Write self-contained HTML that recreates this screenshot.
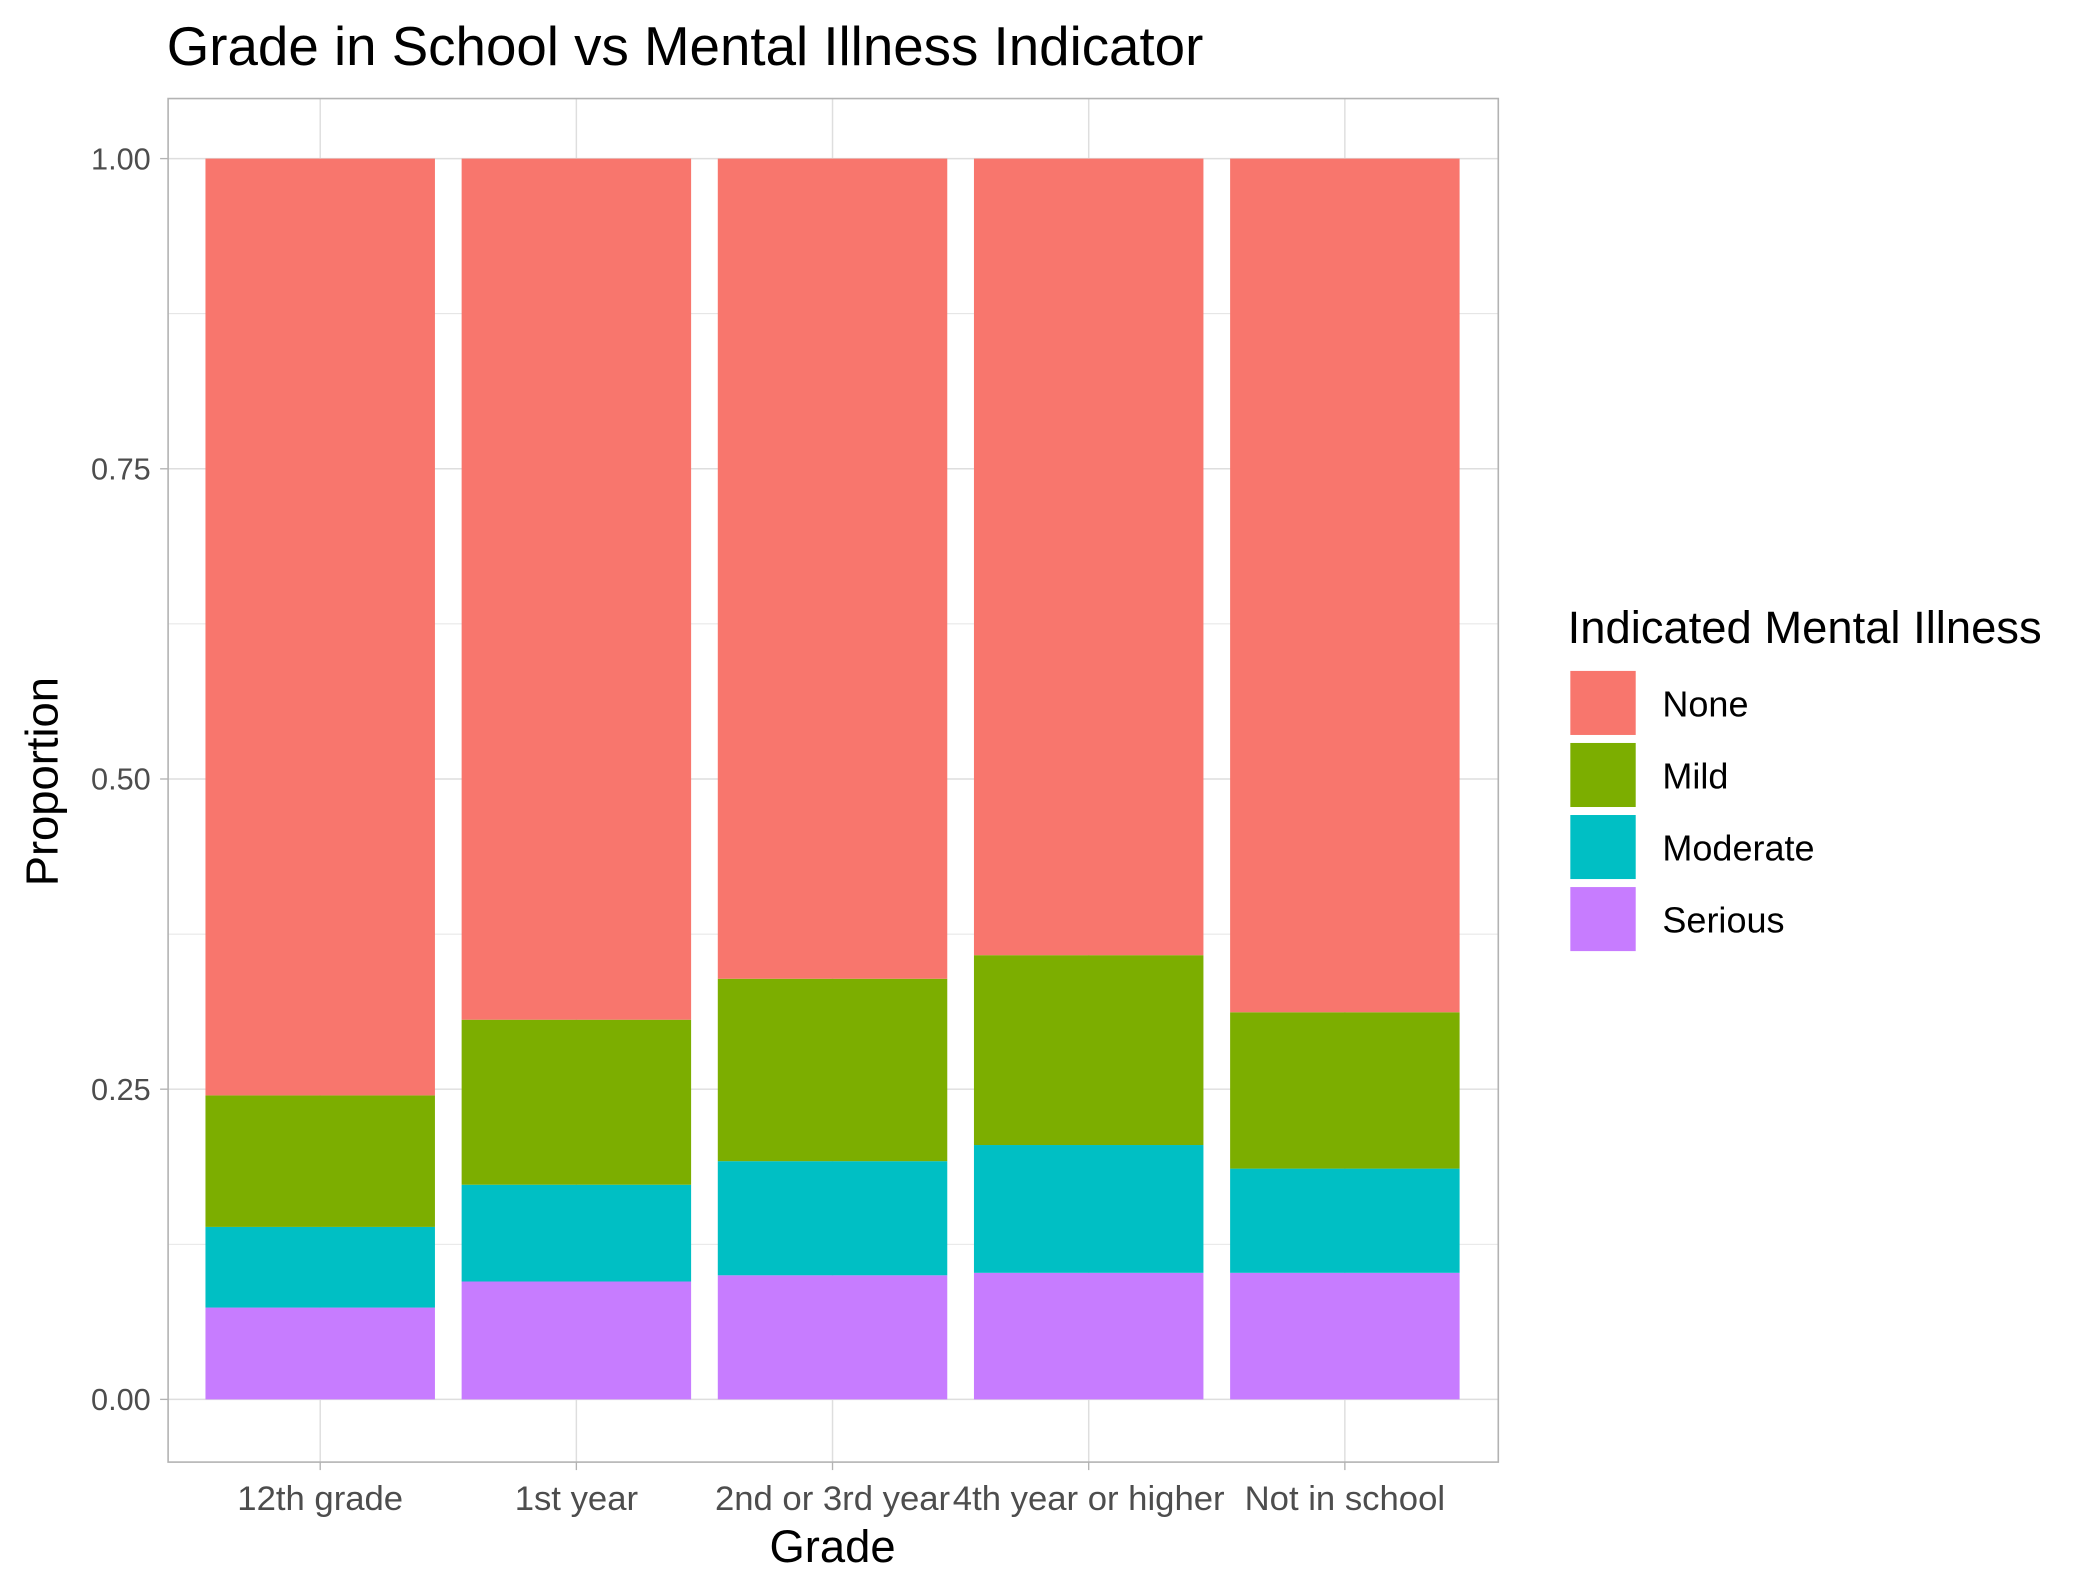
<!DOCTYPE html>
<html><head><meta charset="utf-8"><style>
html,body{margin:0;padding:0;background:#fff}
svg{display:block;font-family:"Liberation Sans",Arial,sans-serif}
</style></head><body>
<svg id="chart" width="2092" height="1590" viewBox="0 0 1568 1190" xmlns="http://www.w3.org/2000/svg">
<text x="125" y="48" font-size="41" fill="#000">Grade in School vs Mental Illness Indicator</text>
<g id="grid"></g>
<g id="bars"></g>
<rect x="126" y="73" width="997" height="1022" fill="none" stroke="#b3b3b3" stroke-width="1.2"/>
<g id="axes"></g>
<text x="624" y="1170" font-size="34" text-anchor="middle">Grade</text>
<text transform="translate(43,585) rotate(-90)" font-size="34" text-anchor="middle">Proportion</text>
<g>
<text x="1175" y="481" font-size="34">Indicated Mental Illness</text>
<g id="legend-items"></g>
</g>
</svg>
<script>
const categories = ["12th grade","1st year","2nd or 3rd year","4th year or higher","Not in school"];
const seriesNames = ["None","Mild","Moderate","Serious"];
const serious = [0.074,0.095,0.100,0.102,0.102];
const moderate = [0.065,0.078,0.092,0.103,0.084];
const mild = [0.106,0.133,0.147,0.153,0.126];
const yTicks = [0,0.25,0.5,0.75,1];
const yTickLabels = ["0.00","0.25","0.50","0.75","1.00"];
const colors = {None:"#F8766D",Mild:"#7CAE00",Moderate:"#00BFC4",Serious:"#C77CFF"};
const NS="http://www.w3.org/2000/svg";
const y = v => 1048 - v*930;
const x = i => 240 + i*192;
const bw = 172;
function mk(tag, attrs, parent){const e=document.createElementNS(NS,tag);for(const k in attrs)e.setAttribute(k,attrs[k]);parent.appendChild(e);return e;}
const grid=document.getElementById('grid'), bars=document.getElementById('bars'), axes=document.getElementById('axes');
for(let t=0;t<=1.0001;t+=0.125){const major=Math.abs(t*4-Math.round(t*4))<1e-6;
 const l=mk('line',{x1:126,x2:1123,y1:y(t),y2:y(t),stroke:"#dedede","stroke-width":major?1.1:0.6},grid);
 
 }
categories.forEach((c,i)=>{const l=mk('line',{x1:x(i),x2:x(i),y1:73,y2:1095,stroke:"#dedede","stroke-width":1.1},grid);
 
 });
categories.forEach((c,i)=>{
 const segs=[["Serious",serious[i]],["Moderate",moderate[i]],["Mild",mild[i]]];
 let base=0;
 const tot=serious[i]+moderate[i]+mild[i];
 segs.push(["None",1-tot]);
 segs.forEach(([n,v])=>{
  const r=mk('rect',{x:x(i)-bw/2,y:y(base+v),width:bw,height:v*930,fill:colors[n]},bars);
  
  
  base+=v;});
 const t=mk('text',{x:x(i),y:1131,"font-size":26,fill:"#4d4d4d","text-anchor":"middle"},axes);t.textContent=c;
 
 
 mk('line',{x1:x(i),x2:x(i),y1:1095,y2:1101,stroke:"#b3b3b3"},axes);
});
yTicks.forEach((v,i)=>{const t=mk('text',{x:113,y:y(v)+8,"font-size":23,fill:"#4d4d4d","text-anchor":"end"},axes);t.textContent=yTickLabels[i];
 
 
 mk('line',{x1:120,x2:126,y1:y(v),y2:y(v),stroke:"#b3b3b3"},axes);});
const li=document.getElementById('legend-items');
seriesNames.forEach((n,i)=>{const yy=502+i*54;
 const r=mk('rect',{x:1177,y:yy,width:49,height:48,fill:colors[n]},li);
 
 
 const t=mk('text',{x:1246,y:yy+34,"font-size":27,fill:"#000"},li);t.textContent=n;
 
 });
</script>
</body></html>
